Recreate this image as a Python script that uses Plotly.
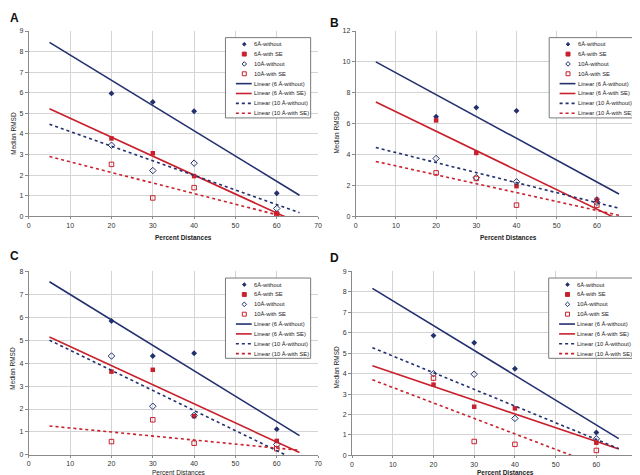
import plotly.graph_objects as go

W, H = 640, 475
FONT = "Liberation Sans, Arial, sans-serif"
NAVY = "#23306e"
RED = "#c8202c"

# ---------------- data ----------------
x_pct = [20, 30, 40, 60]
fit_x = [5, 65.5]

series_names = ["6Å-without", "6Å-with SE", "10Å-without", "10Å-with SE"]
fit_names = ["Linear (6 Å-without)", "Linear (6 Å-with SE)",
             "Linear (10 Å-without)", "Linear (10 Å-with SE)"]

# Panel A
a_6_without = [5.97, 5.55, 5.10, 1.12]
a_6_se = [3.78, 3.06, 1.95, 0.13]
a_10_without = [3.45, 2.22, 2.58, 0.38]
a_10_se = [2.52, 0.89, 1.39, 0.10]
a_fit_6_without = [8.45, 1.02]
a_fit_6_se = [5.22, -0.35]
a_fit_10_without = [4.47, 0.17]
a_fit_10_se = [2.90, -0.21]

# Panel B
b_6_without = [6.45, 7.04, 6.83, 1.10]
b_6_se = [6.21, 4.10, 1.95, 1.06]
b_10_without = [3.74, 2.50, 2.23, 0.90]
b_10_se = [2.81, 2.45, 0.72, 0.72]
b_fit_6_without = [10.0, 1.44]
b_fit_6_se = [7.40, -0.23]
b_fit_10_without = [4.45, 0.52]
b_fit_10_se = [3.55, 0.06]

# Panel C
c_6_without = [5.84, 4.31, 4.43, 1.12]
c_6_se = [3.63, 3.71, 1.69, 0.61]
c_10_without = [4.31, 2.12, 1.72, 0.45]
c_10_se = [0.58, 1.53, 0.51, 0.27]
c_fit_6_without = [7.55, 0.84]
c_fit_6_se = [5.14, 0.10]
c_fit_10_without = [5.00, -0.30]
c_fit_10_se = [1.26, 0.20]

# Panel D
d_6_without = [5.86, 5.51, 4.24, 1.12]
d_6_se = [3.46, 2.38, 2.30, 0.62]
d_10_without = [4.00, 3.97, 1.81, 0.81]
d_10_se = [3.78, 0.68, 0.54, 0.24]
d_fit_6_without = [8.17, 0.82]
d_fit_6_se = [4.38, 0.31]
d_fit_10_without = [5.27, 0.33]
d_fit_10_se = [3.70, -0.88]

panel_labels = ["A", "B", "C", "D"]
y_max = [9, 12, 8, 9]
y_dtick = [1, 2, 1, 1]
x_max = 70
x_dtick = 10
x_title = "Percent Distances"
y_title = "Median RMSD"

panel_points = [
    [a_6_without, a_6_se, a_10_without, a_10_se],
    [b_6_without, b_6_se, b_10_without, b_10_se],
    [c_6_without, c_6_se, c_10_without, c_10_se],
    [d_6_without, d_6_se, d_10_without, d_10_se],
]
panel_fits = [
    [a_fit_6_without, a_fit_6_se, a_fit_10_without, a_fit_10_se],
    [b_fit_6_without, b_fit_6_se, b_fit_10_without, b_fit_10_se],
    [c_fit_6_without, c_fit_6_se, c_fit_10_without, c_fit_10_se],
    [d_fit_6_without, d_fit_6_se, d_fit_10_without, d_fit_10_se],
]

# ---------------- layout geometry (pixels) ----------------
# left, right, top, bottom of each plot area
geom = [
    (19, 311, 19.3, 207.3),
    (349, 633, 19.3, 207.3),
    (19, 311, 263.3, 449.5),
    (345.3, 633, 263.3, 450),
]
label_pos = [(5, 6), (328, 11), (5, 248), (327.5, 250)]
xtitle_pos = [(175, 228.7), (503, 228.7), (170, 467.6), (500, 467.8)]
ytitle_pos = [(3.5, 123), (329.5, 122), (3, 361), (330, 360)]
bold_xtitle = [True, True, False, True]
legend_left_offset = [198.5, 195.3, 198.5, 198.5]


def px(x):
    return x / W


def py(y):
    return 1 - y / H


marker_styles = [
    dict(symbol="diamond", size=4.5, color=NAVY),
    dict(symbol="square", size=4.5, color=RED),
    dict(symbol="diamond-open", size=5, color=NAVY, line=dict(width=1, color=NAVY)),
    dict(symbol="square-open", size=4.5, color=RED, line=dict(width=1, color=RED)),
]
line_styles = [
    dict(color=NAVY, width=1.6),
    dict(color=RED, width=1.6),
    dict(color=NAVY, width=1.6, dash="3px,3px"),
    dict(color=RED, width=1.6, dash="3px,3px"),
]

fig = go.Figure()
shapes = []
annotations = []
layout_axes = {}

for k in range(4):
    suffix = "" if k == 0 else str(k + 1)
    xa, ya = "x" + suffix, "y" + suffix
    for s in range(4):
        fig.add_trace(go.Scatter(
            x=x_pct, y=panel_points[k][s], mode="markers", name=series_names[s],
            marker=marker_styles[s], xaxis=xa, yaxis=ya, showlegend=False,
            cliponaxis=False))
    for s in range(4):
        fig.add_trace(go.Scatter(
            x=fit_x, y=panel_fits[k][s], mode="lines", name=fit_names[s],
            line=line_styles[s], xaxis=xa, yaxis=ya, showlegend=False))

    l, r, t, b = geom[k]
    common = dict(showgrid=True, gridcolor="#d4d4d4", gridwidth=1, zeroline=False,
                  showline=True, linecolor="#8a8a8a", linewidth=1,
                  ticks="outside", ticklen=3, tickcolor="#8a8a8a",
                  tickfont=dict(size=7, color="#333333", family=FONT))
    layout_axes["xaxis" + suffix] = dict(
        common, domain=[px(l), px(r)], range=[0, x_max], dtick=x_dtick, tick0=0,
        anchor=ya, ticklen=2)
    layout_axes["yaxis" + suffix] = dict(
        common, domain=[py(b), py(t)], range=[0, y_max[k]], dtick=y_dtick[k], tick0=0,
        anchor=xa)

    # panel label
    annotations.append(dict(text="<b>%s</b>" % panel_labels[k], x=px(label_pos[k][0]),
                            y=py(label_pos[k][1]), xref="paper", yref="paper",
                            showarrow=False, xanchor="center", yanchor="middle",
                            font=dict(size=12, color="#111111", family=FONT)))
    # axis titles
    xt = "<b>%s</b>" % x_title if bold_xtitle[k] else x_title
    annotations.append(dict(text=xt, x=px(xtitle_pos[k][0]), y=py(xtitle_pos[k][1]),
                            xref="paper", yref="paper", showarrow=False,
                            xanchor="center", yanchor="middle", borderpad=0,
                            font=dict(size=6.5, color="#222222", family=FONT)))
    annotations.append(dict(text=y_title, x=px(ytitle_pos[k][0]), y=py(ytitle_pos[k][1]),
                            xref="paper", yref="paper", showarrow=False, textangle=-90,
                            xanchor="center", yanchor="middle",
                            font=dict(size=6.5, color="#222222", family=FONT)))

    # legend box
    bl = l + legend_left_offset[k]
    bt = t + 6.7
    bw, bh = 86, 81.5
    shapes.append(dict(type="rect", xref="paper", yref="paper",
                       x0=px(bl), x1=px(bl + bw), y0=py(bt), y1=py(bt + bh),
                       line=dict(color="#7a7a7a", width=1), fillcolor="white",
                       layer="above"))
    labels = series_names + fit_names
    for i in range(8):
        ry = bt + 6.7 + 10 * i
        cx = bl + 19
        if i == 0 or i == 2:
            h = 1.8 if i == 0 else 2.3
            path = "M %f,%f L %f,%f L %f,%f L %f,%f Z" % (
                px(cx), py(ry - h), px(cx + h), py(ry), px(cx), py(ry + h), px(cx - h), py(ry))
            shapes.append(dict(type="path", xref="paper", yref="paper", path=path,
                               line=dict(color=NAVY, width=1),
                               fillcolor=NAVY if i == 0 else "white", layer="above"))
        elif i == 1 or i == 3:
            h = 2.0
            shapes.append(dict(type="rect", xref="paper", yref="paper",
                               x0=px(cx - h), x1=px(cx + h), y0=py(ry + h), y1=py(ry - h),
                               line=dict(color=RED, width=1),
                               fillcolor=RED if i == 1 else "white", layer="above"))
        else:
            st = line_styles[i - 4]
            shapes.append(dict(type="line", xref="paper", yref="paper",
                               x0=px(bl + 10.5), x1=px(bl + 26.5), y0=py(ry), y1=py(ry),
                               line=dict(color=st["color"], width=1.6,
                                         dash=st.get("dash", "solid")),
                               layer="above"))
        annotations.append(dict(text=labels[i], x=px(bl + 27), y=py(ry), xref="paper",
                                yref="paper", showarrow=False, xanchor="left",
                                yanchor="middle",
                                font=dict(size=5.8, color="#222222", family=FONT)))

fig.update_layout(
    width=W, height=H, margin=dict(l=0, r=0, t=0, b=0),
    paper_bgcolor="white", plot_bgcolor="white",
    showlegend=False, shapes=shapes, annotations=annotations,
    font=dict(family=FONT),
    **layout_axes)

fig.write_html("out.html")
